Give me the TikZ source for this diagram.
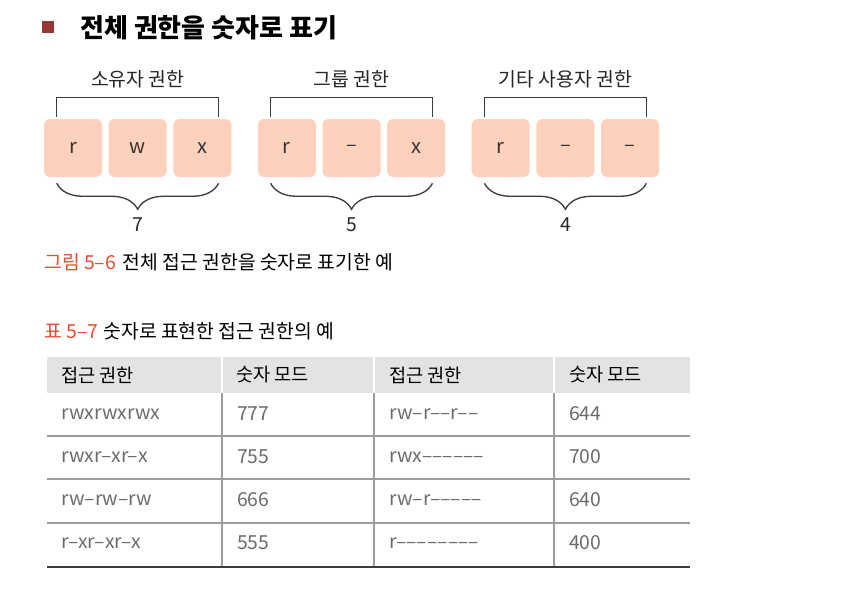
\documentclass[tikz,border=0pt]{standalone}
\usepackage{fontspec}
\setmainfont{Noto Sans CJK KR}
\usetikzlibrary{positioning,chains,decorations.pathreplacing}

\definecolor{peach}{HTML}{FDD1BC}
\definecolor{figred}{HTML}{EA4A2E}
\definecolor{bulletred}{HTML}{953735}
\definecolor{headgray}{HTML}{E2E3E5}
\definecolor{rulegray}{HTML}{9C9C9C}
\definecolor{celltext}{HTML}{6B6B6B}
\definecolor{linegray}{HTML}{3C3C3C}

\begin{document}
\begin{tikzpicture}[
            x=0.75pt, y=-0.75pt,
            every node/.style={ inner sep=0pt },
            permbox/.style={ fill=peach, rounded corners=4pt, minimum width=43.5pt, minimum height=43.5pt, text=black!80, font=\fontsize{15}{17}\selectfont },
            grouplbl/.style={ text=black!85, font=\fontsize{14.5}{16}\selectfont },
            numlbl/.style={ text=black!85, font=\fontsize{14.5}{16}\selectfont },
            bracket/.style={ draw=linegray, line width=1pt },
            cell/.style={ anchor=west, text=celltext, font=\fontsize{14.5}{16}\selectfont },
            headcell/.style={ anchor=west, text=black, font=\fontsize{14}{16}\selectfont },
            start chain=1 going right,
            start chain=2 going right,
            start chain=3 going right,
            node distance=4.6pt
        ]
        \useasboundingbox (0,0) rectangle (851,608);

        % title
        \node[fill=bulletred, minimum width=9pt, minimum height=9pt] (bullet) at (47.5,27) {};
        \node[anchor=west, font=\fontsize{19.5}{22}\selectfont\bfseries] (title) at (80,28) {전체 권한을 숫자로 표기};

        % permission boxes
        \node[permbox, on chain=1] at (73,148) {r};
        \node[permbox, on chain=1] {w};
        \node[permbox, on chain=1] {x};

        \node[permbox, on chain=2, right=19.5pt of 1-3] {r};
        \node[permbox, on chain=2] {–};
        \node[permbox, on chain=2] {x};

        \node[permbox, on chain=3, right=19.5pt of 2-3] {r};
        \node[permbox, on chain=3] {–};
        \node[permbox, on chain=3] {–};

        \node[grouplbl, above=23pt of 1-2] (owner) {소유자 권한};
        \node[grouplbl, above=23pt of 2-2] (group) {그룹 권한};
        \node[grouplbl, above=23pt of 3-2] (other) {기타 사용자 권한};

        \node[numlbl, below=30.5pt of 1-2] (num1) {7};
        \node[numlbl, below=30.5pt of 2-2] (num2) {5};
        \node[numlbl, below=30.5pt of 3-2] (num3) {4};

        \foreach \c in {1,2,3} {
            \draw[bracket] ([xshift=9.75pt,yshift=1.5pt]\c-1.north west) |- ([xshift=-9.75pt,yshift=15.75pt]\c-3.north east) -- ([xshift=-9.75pt,yshift=1.5pt]\c-3.north east);
            \draw[bracket, decorate, decoration={brace,mirror,amplitude=19.5pt}] ([xshift=9.75pt,yshift=-4.5pt]\c-1.south west) -- ([xshift=-9.75pt,yshift=-4.5pt]\c-3.south east);
        }

        % captions
        \node[anchor=west, font=\fontsize{14.5}{16}\selectfont] (fig) at (44,262) {\textcolor{figred}{그림 5–6}\hspace{5pt}전체 접근 권한을 숫자로 표기한 예};
        \node[anchor=west, font=\fontsize{14.5}{16}\selectfont] (tab) at (44,331) {\textcolor{figred}{표 5–7}\hspace{4pt}숫자로 표현한 접근 권한의 예};

        % table
        \fill[headgray] (47,357) rectangle (690,393);
        \foreach \x in {222,374,554} {
            \draw[white, line width=1.5pt] (\x,357) -- (\x,393);
            \draw[rulegray, line width=1pt] (\x,393) -- (\x,567);
        }
        \foreach \y in {436,479,523}
            \draw[rulegray, line width=1.3pt] (47,\y) -- (690,\y);
        \draw[linegray, line width=1.3pt] (47,567) -- (690,567);

        \node[headcell] (h1) at (61,375) {접근 권한};
        \node[headcell] (h2) at (236,375) {숫자 모드};
        \node[headcell] (h3) at (389,375) {접근 권한};
        \node[headcell] (h4) at (569,375) {숫자 모드};

        \foreach \p/\n/\q/\m [count=\i] in {rwxrwxrwx/777/rw–r––r––/644, rwxr–xr–x/755/rwx––––––/700, rw–rw–rw/666/rw–r–––––/640, r–xr–xr–x/555/r––––––––/400} {
            \node[cell] (p\i) at (61,{371+43*\i}) {\p};
            \node[cell] (n\i) at (237,{371+43*\i}) {\n};
            \node[cell] (q\i) at (389,{371+43*\i}) {\q};
            \node[cell] (m\i) at (569,{371+43*\i}) {\m};
        }
    \end{tikzpicture}
\end{document}
